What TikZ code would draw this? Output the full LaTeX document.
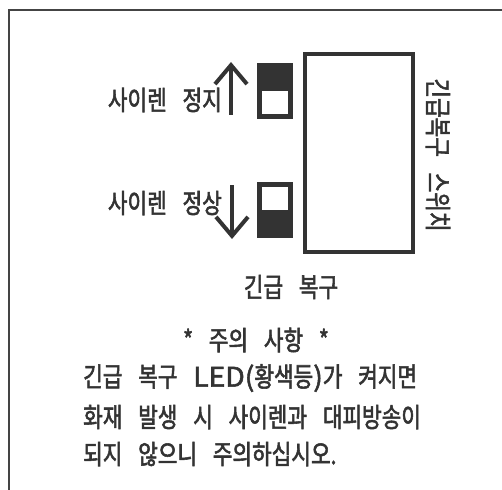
\documentclass[tikz,border=0pt]{standalone}
\usepackage{fontspec}
\setmainfont{Noto Sans CJK KR}[FakeStretch=0.79,FakeBold=2,WordSpace=3.3]
\newfontfamily\widelatin{Noto Sans CJK KR}[FakeStretch=1.05,FakeBold=2]
\usetikzlibrary{arrows,arrows.meta,positioning}
\definecolor{ink}{HTML}{333333}
\definecolor{rim}{HTML}{444444}
\tikzset{
    %Define standard arrow tip
    >=stealth',
    %Define style for text
    txt/.style={
           text=ink,
           inner sep=0pt,
           font=\fontsize{27}{32}\selectfont},
    %Define style for the switch box
    bigbox/.style={
           rectangle,
           draw=ink, line width=4pt,
           minimum width=108pt,
           minimum height=197pt},
    toggle/.style={
           rectangle,
           fill=ink,
           inner sep=0pt,
           minimum width=36pt,
           minimum height=56pt},
    window/.style={
           rectangle,
           fill=white,
           inner sep=0pt,
           minimum width=25.5pt,
           minimum height=22.5pt},
    % Define arrow style
    pil/.style={
           draw=ink,
           line width=4pt,
           -{Straight Barb[length=19pt,width=32pt]}},
    frame/.style={
           draw=rim,
           line width=2pt}
}
\begin{document}
\begin{tikzpicture}[x=1pt,y=-1pt]
\useasboundingbox (0,0) rectangle (502,489);

 %frame
\draw[frame] (9,490) -- (9,10) -- (503,10);

 %switch box
\node[bigbox](sw) at (359,153){};
\node[txt, rotate=-90](swname) at (438,155){긴급복구 스위치};

 %toggles
\node[toggle](up) at (275,91){};
\node[window, anchor=south](upwin) at ([yshift=5pt]up.south){};
\node[toggle](down) at (275,210){};
\node[window, anchor=north](downwin) at ([yshift=-5pt]down.north){};

 %arrows
\coordinate (upfoot) at (231,115);
\coordinate (uptip) at (231,62);
\coordinate (downfoot) at (232,185);
\coordinate (downtip) at (232,239);
\draw[pil] (upfoot) -- (uptip);
\draw[pil] (downfoot) -- (downtip);

 %labels
\node[txt, anchor=east](stop) at (222,100){사이렌 정지};
\node[txt, anchor=east](normal) at (222,203){사이렌 정상};
\node[txt](reset) at (291,287){긴급 복구};

 %caution
\node[txt](head) at (256,340){* 주의 사항 *};
\node[txt, anchor=west](line1) at (83,378){긴급 복구 {\widelatin LED(}황색등{\widelatin )}가 켜지면};
\node[txt, anchor=west](line2) at (83,417){화재 발생 시 사이렌과 대피방송이};
\node[txt, anchor=west](line3) at (83,454){되지 않으니 주의하십시오.};
\end{tikzpicture}
\end{document}
